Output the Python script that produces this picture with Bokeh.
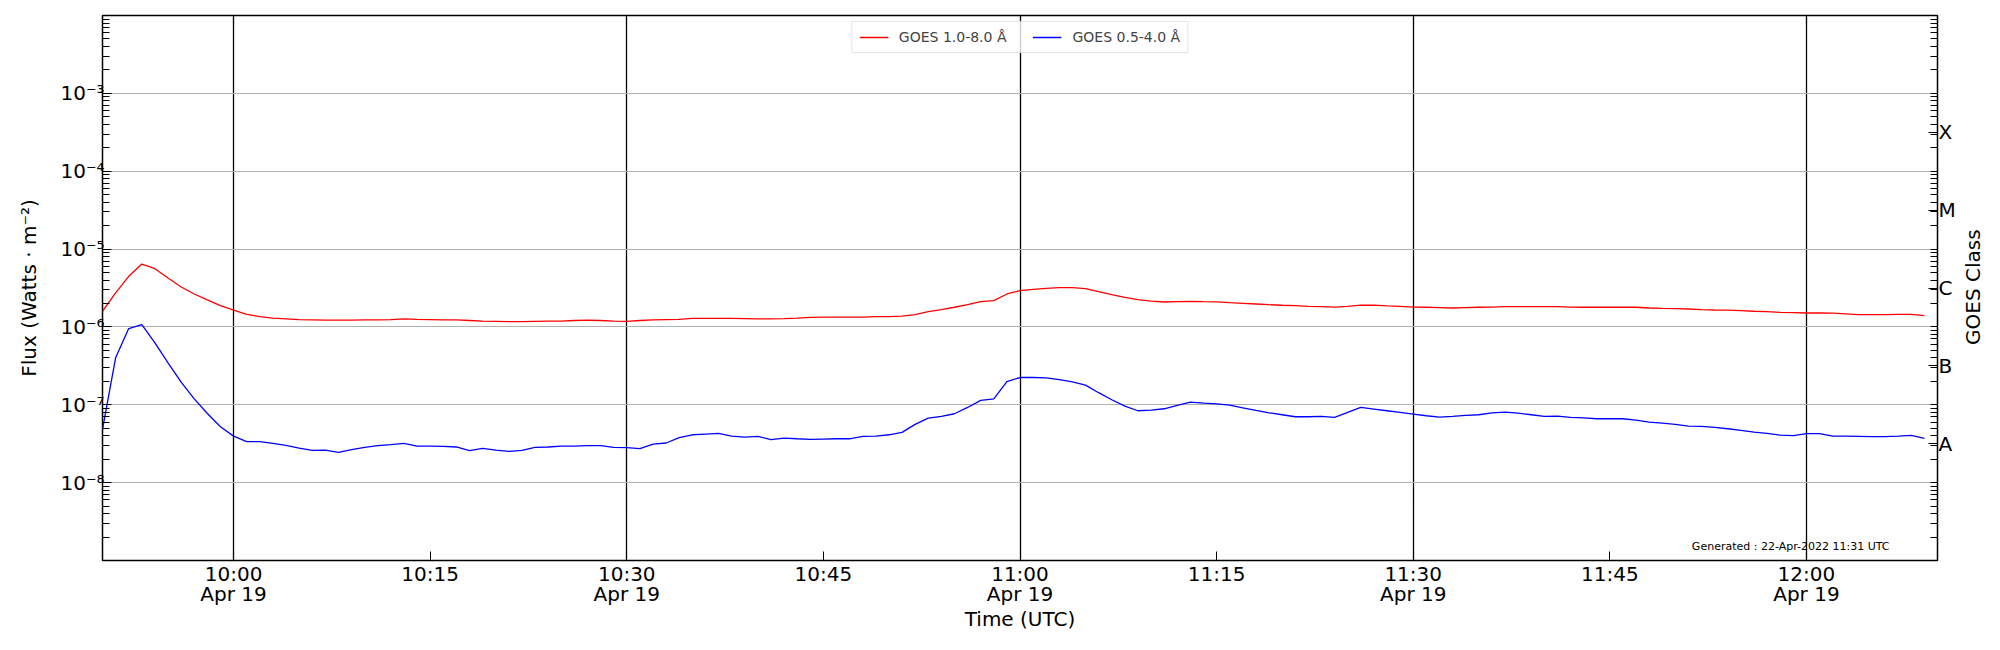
import math
import numpy as np
import pandas as pd
from bokeh.plotting import figure
from bokeh.layouts import row
from bokeh.models import (Range1d, FixedTicker, LogAxis, CustomJSTickFormatter,
                          Legend, LegendItem, Label)
from bokeh.core.properties import value
from bokeh.embed import file_html
from bokeh.resources import INLINE

# ---------------- data ----------------
times = pd.date_range("2022-04-19 09:50", periods=140, freq="1min")

xrs_long = [  # GOES 1.0-8.0 A, W/m^2
    1.59e-6, 2.73e-6, 4.47e-6, 6.42e-6, 5.60e-6, 4.25e-6, 3.26e-6, 2.65e-6, 2.22e-6, 1.88e-6,
    1.64e-6, 1.45e-6, 1.36e-6, 1.30e-6, 1.27e-6, 1.24e-6, 1.23e-6, 1.22e-6, 1.22e-6, 1.22e-6,
    1.23e-6, 1.23e-6, 1.24e-6, 1.27e-6, 1.25e-6, 1.24e-6, 1.23e-6, 1.23e-6, 1.21e-6, 1.19e-6,
    1.18e-6, 1.17e-6, 1.17e-6, 1.18e-6, 1.19e-6, 1.19e-6, 1.21e-6, 1.22e-6, 1.21e-6, 1.19e-6,
    1.18e-6, 1.21e-6, 1.23e-6, 1.24e-6, 1.25e-6, 1.29e-6, 1.29e-6, 1.29e-6, 1.29e-6, 1.28e-6,
    1.27e-6, 1.27e-6, 1.28e-6, 1.30e-6, 1.33e-6, 1.34e-6, 1.34e-6, 1.34e-6, 1.34e-6, 1.36e-6,
    1.36e-6, 1.38e-6, 1.44e-6, 1.57e-6, 1.67e-6, 1.79e-6, 1.93e-6, 2.11e-6, 2.18e-6, 2.65e-6,
    2.92e-6, 3.04e-6, 3.13e-6, 3.19e-6, 3.19e-6, 3.10e-6, 2.84e-6, 2.60e-6, 2.40e-6, 2.24e-6,
    2.15e-6, 2.09e-6, 2.11e-6, 2.13e-6, 2.11e-6, 2.10e-6, 2.05e-6, 2.01e-6, 1.97e-6, 1.93e-6,
    1.90e-6, 1.88e-6, 1.84e-6, 1.82e-6, 1.80e-6, 1.84e-6, 1.90e-6, 1.90e-6, 1.86e-6, 1.84e-6,
    1.80e-6, 1.79e-6, 1.77e-6, 1.75e-6, 1.77e-6, 1.79e-6, 1.80e-6, 1.82e-6, 1.82e-6, 1.82e-6,
    1.82e-6, 1.82e-6, 1.80e-6, 1.79e-6, 1.79e-6, 1.79e-6, 1.79e-6, 1.79e-6, 1.75e-6, 1.73e-6,
    1.72e-6, 1.70e-6, 1.67e-6, 1.65e-6, 1.64e-6, 1.62e-6, 1.59e-6, 1.57e-6, 1.54e-6, 1.53e-6,
    1.51e-6, 1.51e-6, 1.50e-6, 1.47e-6, 1.44e-6, 1.44e-6, 1.44e-6, 1.45e-6, 1.45e-6, 1.40e-6,
]

xrs_short = [  # GOES 0.5-4.0 A, W/m^2
    4.83e-8, 4.01e-7, 9.52e-7, 1.07e-6, 6.24e-7, 3.45e-7, 1.95e-7, 1.19e-7, 7.74e-8, 5.22e-8,
    3.96e-8, 3.36e-8, 3.36e-8, 3.19e-8, 3.01e-8, 2.78e-8, 2.60e-8, 2.62e-8, 2.45e-8, 2.65e-8,
    2.84e-8, 2.98e-8, 3.07e-8, 3.19e-8, 2.95e-8, 2.95e-8, 2.93e-8, 2.87e-8, 2.57e-8, 2.75e-8,
    2.62e-8, 2.52e-8, 2.60e-8, 2.84e-8, 2.87e-8, 2.95e-8, 2.95e-8, 2.98e-8, 2.98e-8, 2.84e-8,
    2.81e-8, 2.73e-8, 3.13e-8, 3.23e-8, 3.78e-8, 4.12e-8, 4.21e-8, 4.29e-8, 3.96e-8, 3.85e-8,
    3.93e-8, 3.56e-8, 3.74e-8, 3.66e-8, 3.60e-8, 3.63e-8, 3.66e-8, 3.66e-8, 3.93e-8, 3.96e-8,
    4.12e-8, 4.42e-8, 5.60e-8, 6.75e-8, 7.08e-8, 7.67e-8, 9.24e-8, 1.14e-7, 1.19e-7, 1.99e-7,
    2.24e-7, 2.24e-7, 2.22e-7, 2.11e-7, 1.97e-7, 1.79e-7, 1.43e-7, 1.16e-7, 9.61e-8, 8.38e-8,
    8.55e-8, 8.89e-8, 9.80e-8, 1.08e-7, 1.05e-7, 1.03e-7, 9.90e-8, 9.15e-8, 8.46e-8, 7.89e-8,
    7.45e-8, 7.02e-8, 7.02e-8, 7.08e-8, 6.88e-8, 7.97e-8, 9.24e-8, 8.80e-8, 8.38e-8, 7.97e-8,
    7.59e-8, 7.23e-8, 6.95e-8, 7.08e-8, 7.30e-8, 7.45e-8, 7.89e-8, 8.05e-8, 7.82e-8, 7.45e-8,
    7.08e-8, 7.16e-8, 6.88e-8, 6.81e-8, 6.62e-8, 6.62e-8, 6.62e-8, 6.36e-8, 6.00e-8, 5.82e-8,
    5.60e-8, 5.33e-8, 5.28e-8, 5.12e-8, 4.92e-8, 4.69e-8, 4.46e-8, 4.29e-8, 4.08e-8, 4.01e-8,
    4.25e-8, 4.25e-8, 3.96e-8, 3.96e-8, 3.93e-8, 3.89e-8, 3.89e-8, 3.96e-8, 4.05e-8, 3.70e-8,
]

series_labels = ["GOES 1.0-8.0 Å", "GOES 0.5-4.0 Å"]
series_colors = ["#ff0000", "#0000ff"]

y_decades = [1e-9, 1e-8, 1e-7, 1e-6, 1e-5, 1e-4, 1e-3, 1e-2]
y_tick_exps = [-8, -7, -6, -5, -4, -3]
y_tick_labels = ["10⁻⁸", "10⁻⁷", "10⁻⁶", "10⁻⁵", "10⁻⁴", "10⁻³"]
class_labels = ["A", "B", "C", "M", "X"]
class_centers = [10 ** -7.5, 10 ** -6.5, 10 ** -5.5, 10 ** -4.5, 10 ** -3.5]
right_axis_title = "GOES Class"

x_start = pd.Timestamp("2022-04-19 09:50")
x_end = pd.Timestamp("2022-04-19 12:10")
x_ticks = pd.date_range("2022-04-19 10:00", "2022-04-19 12:00", freq="15min")
x_major = pd.date_range("2022-04-19 10:00", "2022-04-19 12:00", freq="30min")
date_label = "Apr 19"
generated_text = "Generated : 22-Apr-2022 11:31 UTC"
generated_pos = (pd.Timestamp("2022-04-19 12:06:20"), 1.5e-9)

FONT = "DejaVu Sans"
H = 634

def ms(ts):
    return [t.value / 1e6 for t in ts]

minor_log = [m * d for d in y_decades[:-1] for m in range(2, 10)]

# ---------------- main figure ----------------
p = figure(width=1959, height=H, x_axis_type="datetime", y_axis_type="log",
           x_range=Range1d(x_start, x_end), y_range=Range1d(1e-9, 1e-2),
           output_backend="svg", toolbar_location=None,
           min_border_left=102, min_border_right=22, min_border_top=15,
           min_border_bottom=66)
p.background_fill_color = "white"
p.border_fill_color = "white"
p.outline_line_color = "black"
p.outline_line_width = 1.5

r1 = p.line(times, xrs_long, line_color=series_colors[0], line_width=1.3)
r2 = p.line(times, xrs_short, line_color=series_colors[1], line_width=1.3)

# grids
p.xgrid.ticker = FixedTicker(ticks=ms(x_major))
p.xgrid.grid_line_color = "black"
p.xgrid.grid_line_width = 1.3
p.ygrid.ticker = FixedTicker(ticks=y_decades[1:-1])
p.ygrid.grid_line_color = "#b0b0b0"
p.ygrid.grid_line_width = 1.2

# x axis
xa = p.xaxis[0]
xa.ticker = FixedTicker(ticks=ms(x_ticks), minor_ticks=[])
xa.formatter = CustomJSTickFormatter(args=dict(dl=date_label), code="""
    const d = new Date(tick);
    const hh = String(d.getUTCHours()).padStart(2, '0');
    const mm = String(d.getUTCMinutes()).padStart(2, '0');
    let s = hh + ':' + mm;
    if (d.getUTCMinutes() % 30 == 0) { s += '\\n' + dl; }
    return s;
""")
xa.axis_label = "Time (UTC)"

# left y axis
ya = p.yaxis[0]
ya.ticker = FixedTicker(ticks=y_decades, minor_ticks=minor_log)
ya.formatter = CustomJSTickFormatter(args=dict(exps=y_tick_exps, labs=y_tick_labels), code="""
    const e = Math.round(Math.log10(tick));
    const i = exps.indexOf(e);
    return i >= 0 ? labs[i] : '';
""")
ya.axis_label = "Flux (Watts · m⁻²)"

# right class axis
ra = LogAxis(ticker=FixedTicker(ticks=class_centers, minor_ticks=y_decades + minor_log))
ra.formatter = CustomJSTickFormatter(args=dict(labs=class_labels), code="""
    const i = Math.round(Math.log10(tick) + 7.5);
    return (i >= 0 && i < labs.length) ? labs[i] : '';
""")
p.add_layout(ra, "right")

for ax in [xa, ya, ra]:
    ax.axis_line_color = None
    ax.major_tick_out = 0
    ax.minor_tick_out = 0
    ax.major_tick_in = 9
    ax.minor_tick_in = 7
    ax.major_tick_line_color = "black"
    ax.minor_tick_line_color = "black"
    ax.major_tick_line_width = 1
    ax.minor_tick_line_width = 1
    ax.major_label_text_font = FONT
    ax.major_label_text_font_size = "20px"
    ax.major_label_text_color = "black"
    ax.axis_label_text_font = FONT
    ax.axis_label_text_font_size = "20px"
    ax.axis_label_text_font_style = "normal"
    ax.axis_label_text_color = "black"

xa.major_label_text_line_height = 0.87
xa.major_label_standoff = 1
xa.axis_label_standoff = -2
ya.major_label_standoff = -2
ya.axis_label_standoff = 16
ra.major_label_standoff = 1

# legend
legend = Legend(items=[LegendItem(label=series_labels[0], renderers=[r1]),
                       LegendItem(label=series_labels[1], renderers=[r2])],
                location="top_center", orientation="horizontal")
legend.label_text_font = FONT
legend.label_text_font_size = "14px"
legend.glyph_width = 29
legend.glyph_height = 16
legend.label_height = 16
legend.label_standoff = 11
legend.padding = 7
legend.spacing = 26
legend.margin = 6
legend.border_line_color = "#cccccc"
legend.border_line_width = 1
legend.background_fill_alpha = 0.8
p.add_layout(legend, "center")

# generated label
p.add_layout(Label(x=generated_pos[0].value / 1e6, y=generated_pos[1], text=generated_text,
                   text_align="right", text_baseline="alphabetic",
                   text_font=FONT, text_font_size="11px", text_color="black"))

# ---------------- narrow strip holding the right-hand axis title ----------------
W2 = 29
p2 = figure(width=W2, height=H, x_range=Range1d(0, W2), y_range=Range1d(0, H),
            output_backend="svg", toolbar_location=None, min_border=0,
            x_axis_location=None, y_axis_location=None)
p2.outline_line_color = None
p2.grid.visible = False
p2.background_fill_color = "white"
p2.border_fill_color = "white"
p2.text(x=[13.5], y=[318], text=[right_axis_title], angle=math.pi / 2,
        text_align="center", text_baseline="middle",
        text_font=value(FONT), text_font_size="20px", text_color="black")

layout = row(p, p2, spacing=0)
open("out.html", "w").write(file_html(layout, INLINE))
